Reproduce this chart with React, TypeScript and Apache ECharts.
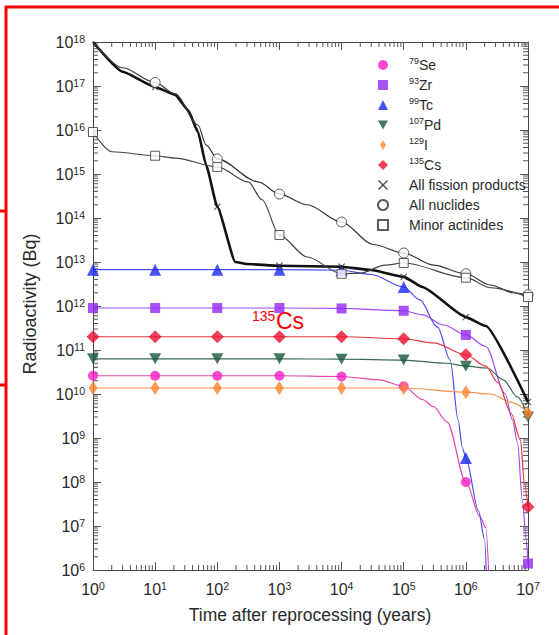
import React, { useEffect, useRef } from 'react';
import * as echarts from 'echarts';

// Time grid (years) where markers are drawn
const decades = [1, 10, 100, 1e3, 1e4, 1e5, 1e6, 1e7];

// Marker values at each decade (null = no marker / off-chart)
const seMarks = [2.6e10, 2.6e10, 2.6e10, 2.6e10, 2.5e10, 1.5e10, 1.0e8, null];
const zrMarks = [9e11, 9e11, 9e11, 9e11, 8.8e11, 7.8e11, 2.2e11, 1.4e6];
const tcMarks = [6.7e12, 6.7e12, 6.7e12, 6.7e12, 6.5e12, 2.7e12, 3.5e8, null];
const pdMarks = [6.3e10, 6.3e10, 6.3e10, 6.3e10, 6.2e10, 5.9e10, 4.3e10, 3e9];
const iMarks = [1.37e10, 1.37e10, 1.37e10, 1.37e10, 1.37e10, 1.37e10, 1.1e10, 3.7e9];
const csMarks = [2e11, 2e11, 2e11, 2e11, 2e11, 1.8e11, 7.8e10, 2.7e7];
const fpMarks = [null, 9.5e16, 1.8e14, 8.2e12, 7.8e12, 4.6e12, 5.6e11, 6.6e9];
const anMarks = [null, 1.2e17, 2.2e15, 3.5e14, 8.1e13, 1.6e13, 5.4e12, 1.8e12];
const maMarks = [9e15, 2.6e15, 1.45e15, 4.1e13, 5.4e12, 9.5e12, 4.4e12, 1.6e12];

// Curve points read between the decades: [years, Bq]
const seBetween = [[4e4, 2.1e10], [2e5, 7.5e9], [3e5, 5.2e9], [5e5, 2.3e9], [1.7e6, 1.6e7], [2.1e6, 9e6], [2.4e6, 3e5]];
const zrBetween = [[2e5, 6.3e11], [4.4e5, 3.7e11], [2.1e6, 1.2e11], [4.3e6, 1e10], [5.6e6, 2.6e9], [6.8e6, 7.8e8], [8.1e6, 3.9e7], [9.4e6, 4.8e6]];
const tcBetween = [[3e4, 5.2e12], [1.8e5, 1.4e12], [3.5e5, 3.3e11], [5.6e5, 5.9e10], [7.5e5, 2.6e9], [8.8e5, 6e8], [1.6e6, 2.2e7], [2e6, 5e6], [2.2e6, 2e5]];
const pdBetween = [[4.8e5, 5e10], [2.2e6, 3.9e10], [4e6, 2.1e10], [6.8e6, 8.5e9]];
const iBetween = [[2.5e6, 1e10], [5.8e6, 6.3e9]];
const csBetween = [[3e5, 1.45e11], [2.1e6, 4.3e10], [3.3e6, 1.8e10], [5.3e6, 3.7e9], [7.6e6, 8.9e8], [8.7e6, 9.5e7]];
const fpBetween = [[1, 1e18], [3, 2.1e17], [21, 6.3e16], [34, 2.8e16], [49, 9e15], [66, 1.6e15], [195, 1e13], [300, 9e12], [3e4, 6.6e12], [2e5, 2.7e12], [2.1e6, 3.5e11]];
const anBetween = [[1, 1e18], [3, 2.6e17], [21, 6.6e16], [49, 1.3e16], [66, 4.6e15], [457, 6.6e14], [2800, 2e14], [3.2e4, 2.5e13], [3e5, 8.5e12], [2.5e6, 3e12], [5.8e6, 2e12]];
const maBetween = [[2, 3.2e15], [21, 2.3e15], [316, 6.6e14], [525, 2.6e14], [2800, 1.3e13], [2e4, 5.6e12], [5e4, 8.5e12], [2.5e6, 2.6e12]];

const FONT = '"Liberation Sans", Arial, Helvetica, sans-serif';
const TXT = '#2a2a2a';

const CROSS = 'path://M0,1L1,0L5,4L9,0L10,1L6,5L10,9L9,10L5,6L1,10L0,9L4,5Z';
const DOWN_TRI = 'path://M0,0L10,0L5,9Z';
const THIN_DIAMOND = 'path://M4,0L8,7L4,14L0,7Z';

const seriesDefs = [
  { name: '79Se', label: '{s|79}{b|Se}', marks: seMarks, between: seBetween, color: '#f51fc6', line: '#e645a8', lw: 1.2, symbol: 'circle', size: 10, smooth: 0.3 },
  { name: '93Zr', label: '{s|93}{b|Zr}', marks: zrMarks, between: zrBetween, color: '#9528f2', line: '#a04cf0', lw: 1.2, symbol: 'rect', size: 10, smooth: 0.3 },
  { name: '99Tc', label: '{s|99}{b|Tc}', marks: tcMarks, between: tcBetween, color: '#1c28f0', line: '#4a4cf5', lw: 1.2, symbol: 'triangle', size: 12, smooth: 0.3 },
  { name: '107Pd', label: '{s|107}{b|Pd}', marks: pdMarks, between: pdBetween, color: '#17573b', line: '#3a6a52', lw: 1.2, symbol: DOWN_TRI, size: [12, 11], smooth: 0.3 },
  { name: '129I', label: '{s|129}{b|I}', marks: iMarks, between: iBetween, color: '#fb8330', line: '#f7944c', lw: 1.2, symbol: THIN_DIAMOND, size: [9, 14], smooth: 0.3 },
  { name: '135Cs', label: '{s|135}{b|Cs}', marks: csMarks, between: csBetween, color: '#ec1030', line: '#e8343c', lw: 1.2, symbol: 'diamond', size: 13, smooth: 0.3 },
  { name: 'All fission products', label: '{b|All fission products}', marks: fpMarks, between: fpBetween, color: '#222', line: '#111', lw: 2.6, symbol: CROSS, size: 7, open: false, smooth: 0.15 },
  { name: 'All nuclides', label: '{b|All nuclides}', marks: anMarks, between: anBetween, color: '#fff', line: '#333', lw: 1.2, symbol: 'circle', size: 10, open: true, smooth: 0.3 },
  { name: 'Minor actinides', label: '{b|Minor actinides}', marks: maMarks, between: maBetween, color: '#fff', line: '#444', lw: 1.2, symbol: 'rect', size: 9, open: true, smooth: 0.3 },
];

function buildCurve(marks: (number | null)[], between: number[][]) {
  const pts: number[][] = [];
  marks.forEach((v, i) => { if (v != null) pts.push([decades[i], v]); });
  between.forEach((p) => pts.push([p[0], p[1]]));
  pts.sort((a, b) => a[0] - b[0]);
  return pts;
}
function buildMarks(marks: (number | null)[]) {
  const out: number[][] = [];
  marks.forEach((v, i) => { if (v != null) out.push([decades[i], v]); });
  return out;
}

// minor log ticks (axis decoration)
const minorTicks: number[][] = [];
for (let k = 0; k < 7; k++) for (let m = 2; m <= 9; m++) minorTicks.push([m * Math.pow(10, k), 1e12, 0]);
for (let k = 6; k < 18; k++) for (let m = 2; m <= 9; m++) minorTicks.push([10, m * Math.pow(10, k), 1]);

const expLabel = (v: number) => `{b|10}{s|${Math.round(Math.log10(v))}}`;
const labelRich = {
  b: { fontSize: 16, fontFamily: FONT, color: TXT, lineHeight: 18 },
  s: { fontSize: 10.5, fontFamily: FONT, color: TXT, lineHeight: 9, verticalAlign: 'top' },
};

export default function App() {
  const ref = useRef<HTMLDivElement>(null);
  useEffect(() => {
    if (!ref.current) return;
    const chart = echarts.init(ref.current, undefined, { renderer: 'svg' });
    const tickStyle = { color: '#555', width: 1 };
    const axisLineStyle = { color: '#444', width: 1 };
    const series: any[] = [];
    seriesDefs.forEach((d) => {
      series.push({
        type: 'line', name: d.name + ' curve', data: buildCurve(d.marks, d.between),
        showSymbol: false, symbol: 'none', clip: true, z: 2, smooth: d.smooth, smoothMonotone: 'x',
        lineStyle: { color: d.line, width: d.lw }, silent: true,
      });
    });
    seriesDefs.forEach((d) => {
      series.push({
        type: 'scatter', name: d.name, data: buildMarks(d.marks), symbol: d.symbol, symbolSize: d.size, z: 5,
        itemStyle: d.open ? { color: '#fff', borderColor: '#333', borderWidth: 1 } : { color: d.color },
      });
    });
    series.push({
      type: 'custom', name: 'minor ticks', silent: true, z: 1, clip: false, data: minorTicks,
      renderItem: (params: any, api: any) => {
        const cs = params.coordSys;
        const kind = api.value(2);
        const st = { stroke: '#555', lineWidth: 1 };
        const len = 5;
        if (kind === 0) {
          const px = api.coord([api.value(0), 1e12])[0];
          return { type: 'group', children: [
            { type: 'line', shape: { x1: px, y1: cs.y + cs.height, x2: px, y2: cs.y + cs.height - len }, style: st },
            { type: 'line', shape: { x1: px, y1: cs.y, x2: px, y2: cs.y + len }, style: st },
          ] };
        }
        const py = api.coord([10, api.value(1)])[1];
        return { type: 'group', children: [
          { type: 'line', shape: { x1: cs.x, y1: py, x2: cs.x + len, y2: py }, style: st },
          { type: 'line', shape: { x1: cs.x + cs.width, y1: py, x2: cs.x + cs.width - len, y2: py }, style: st },
        ] };
      },
    });

    const labelMap: Record<string, string> = {};
    seriesDefs.forEach((d) => { labelMap[d.name] = d.label; });

    const red = { stroke: '#ff0000', lineWidth: 3 };
    chart.setOption({
      animation: false,
      backgroundColor: '#ffffff',
      grid: { left: 93, top: 42, right: 31, bottom: 65, containLabel: false },
      xAxis: [
        { type: 'log', logBase: 10, min: 1, max: 1e7, interval: 1, splitNumber: 7, splitLine: { show: false },
          axisLine: { lineStyle: axisLineStyle }, axisTick: { inside: true, length: 8, lineStyle: tickStyle },
          axisLabel: { formatter: expLabel, margin: 10, rich: labelRich } },
        { type: 'log', logBase: 10, min: 1, max: 1e7, interval: 1, splitNumber: 7, position: 'top', splitLine: { show: false },
          axisLine: { lineStyle: axisLineStyle }, axisTick: { inside: true, length: 8, lineStyle: tickStyle },
          axisLabel: { show: false } },
      ],
      yAxis: [
        { type: 'log', logBase: 10, min: 1e6, max: 1e18, interval: 1, splitNumber: 12, splitLine: { show: false },
          axisLine: { lineStyle: axisLineStyle }, axisTick: { inside: true, length: 8, lineStyle: tickStyle },
          axisLabel: { formatter: expLabel, margin: 8, rich: labelRich } },
        { type: 'log', logBase: 10, min: 1e6, max: 1e18, interval: 1, splitNumber: 12, position: 'right', splitLine: { show: false },
          axisLine: { lineStyle: axisLineStyle }, axisTick: { inside: true, length: 8, lineStyle: tickStyle },
          axisLabel: { show: false } },
      ],
      legend: {
        orient: 'vertical', left: 372, top: 51, itemWidth: 10, itemHeight: 10, itemGap: 2,
        data: seriesDefs.map((d) => d.name), selectedMode: false,
        formatter: (name: string) => labelMap[name] || name,
        textStyle: {
          fontFamily: FONT, fontSize: 14, color: TXT, lineHeight: 18, padding: [0, 0, 0, 16],
          rich: {
            b: { fontFamily: FONT, fontSize: 14, color: TXT, lineHeight: 18 },
            s: { fontFamily: FONT, fontSize: 9, color: TXT, lineHeight: 8, verticalAlign: 'top' },
          },
        },
      },
      graphic: [
        { type: 'line', shape: { x1: 5, y1: 7, x2: 559, y2: 7 }, style: red, silent: true },
        { type: 'line', shape: { x1: 6, y1: 6, x2: 6, y2: 635 }, style: red, silent: true },
        { type: 'line', shape: { x1: 0, y1: 211, x2: 7, y2: 211 }, style: red, silent: true },
        { type: 'line', shape: { x1: 0, y1: 385, x2: 7, y2: 385 }, style: red, silent: true },
        { type: 'text', x: 30, y: 304, rotation: Math.PI / 2, silent: true,
          style: { text: 'Radioactivity (Bq)', fontSize: 18, fontFamily: FONT, fill: TXT, align: 'center', verticalAlign: 'middle', textAlign: 'center', textVerticalAlign: 'middle' } },
        { type: 'text', x: 310, y: 615, silent: true,
          style: { text: 'Time after reprocessing (years)', fontSize: 17.5, fontFamily: FONT, fill: TXT, align: 'center', verticalAlign: 'middle', textAlign: 'center', textVerticalAlign: 'middle' } },
        { type: 'text', x: 252, y: 316, silent: true,
          style: { text: '135', fontSize: 14, fontFamily: FONT, fill: '#ff0000', align: 'left', verticalAlign: 'middle', textAlign: 'left', textVerticalAlign: 'middle' } },
        { type: 'text', x: 276, y: 321, silent: true,
          style: { text: 'Cs', fontSize: 23, fontFamily: FONT, fill: '#ff0000', align: 'left', verticalAlign: 'middle', textAlign: 'left', textVerticalAlign: 'middle' } },
      ],
      series,
    });
    return () => chart.dispose();
  }, []);
  return <div ref={ref} style={{ position: 'fixed', left: 0, top: 0, width: 559, height: 635, background: '#fff' }} />;
}
